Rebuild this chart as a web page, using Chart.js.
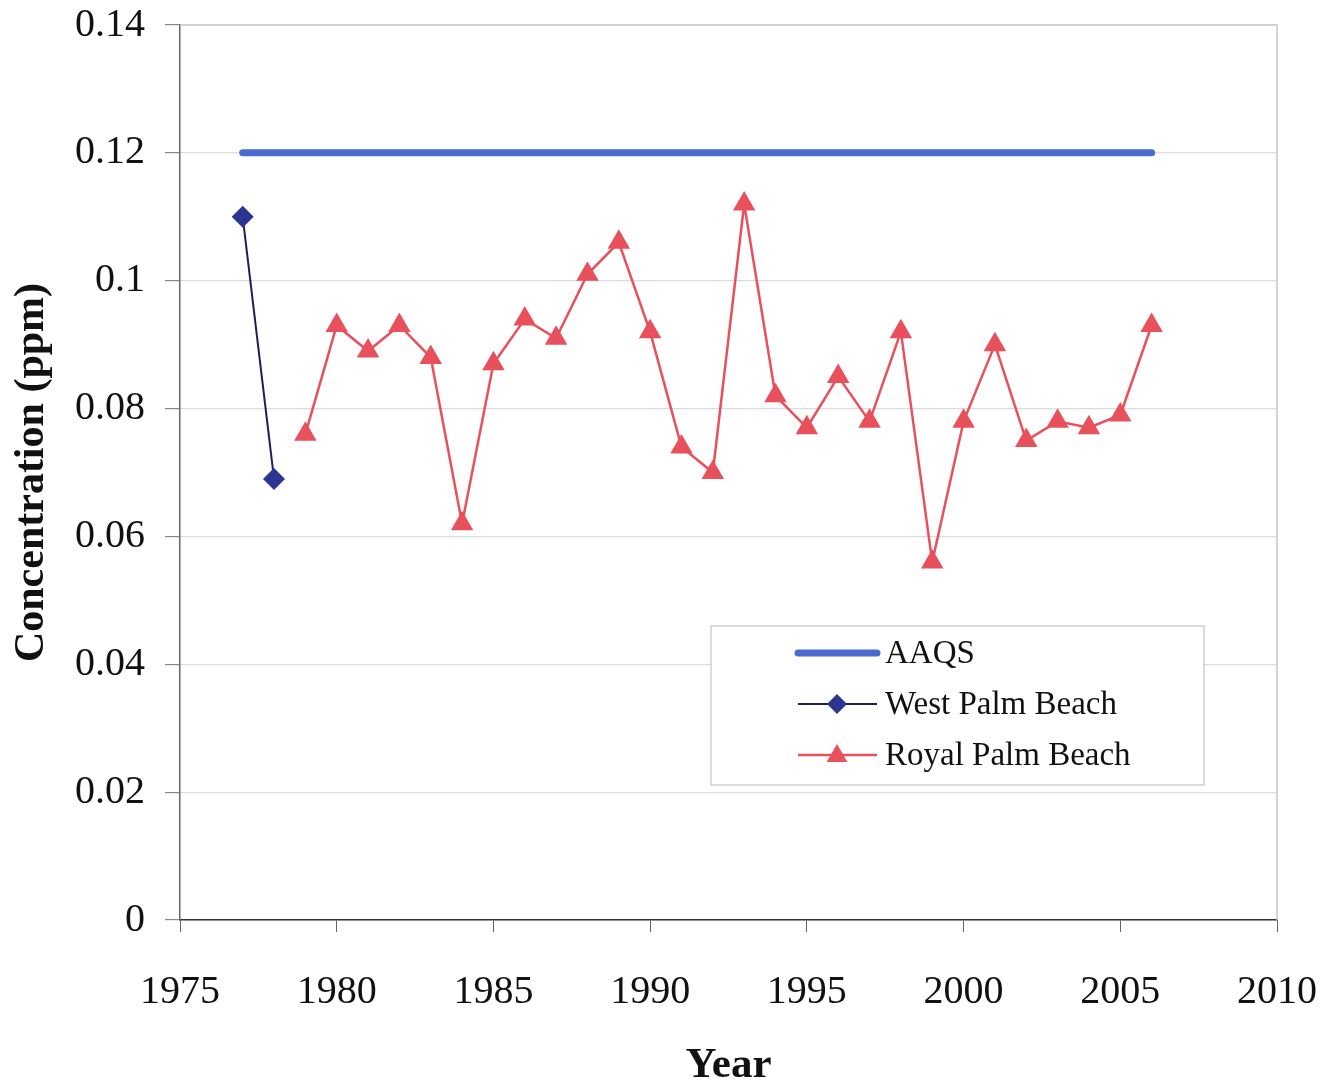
<!DOCTYPE html>
<html>
<head>
<meta charset="utf-8">
<script src="https://cdn.jsdelivr.net/npm/chart.js@4/dist/chart.umd.min.js"></script>
<style>
  html, body { margin: 0; padding: 0; background: #fff; }
  #wrap { width: 1325px; height: 1081px; }
</style>
</head>
<body>
<div id="wrap"><canvas id="c" width="1325" height="1081"></canvas></div>
<script>
// Ozone concentration by year (ppm)
const aaqsYears = [1977, 2006];
const aaqsValues = [0.12, 0.12];

const westYears = [1977, 1978];
const westValues = [0.110, 0.069];

const royalYears = [1979, 1980, 1981, 1982, 1983, 1984, 1985, 1986, 1987, 1988,
                    1989, 1990, 1991, 1992, 1993, 1994, 1995, 1996, 1997, 1998,
                    1999, 2000, 2001, 2002, 2003, 2004, 2005, 2006];
const royalValues = [0.076, 0.093, 0.089, 0.093, 0.088, 0.062, 0.087, 0.094, 0.091, 0.101,
                     0.106, 0.092, 0.074, 0.070, 0.112, 0.082, 0.077, 0.085, 0.078, 0.092,
                     0.056, 0.078, 0.090, 0.075, 0.078, 0.077, 0.079, 0.093];

const xTickValues = [1975, 1980, 1985, 1990, 1995, 2000, 2005, 2010];
const yTickValues = [0, 0.02, 0.04, 0.06, 0.08, 0.1, 0.12, 0.14];
const yTickLabels = ['0', '0.02', '0.04', '0.06', '0.08', '0.1', '0.12', '0.14'];

const seriesNames = ['AAQS', 'West Palm Beach', 'Royal Palm Beach'];

const toPoints = (xs, ys) => xs.map((x, i) => ({ x: x, y: ys[i] }));

const SERIF = '"Liberation Serif", "Times New Roman", serif';
const AAQS_COLOR = '#4b6bd0';
const WEST_LINE = '#1d1f5c';
const WEST_MARK = '#2c3592';
const ROYAL_COLOR = '#e8505c';

// light frame on the top and right of the plotting area
const frame = {
  id: 'frame',
  beforeDatasetsDraw(chart) {
    const { ctx, chartArea: a } = chart;
    ctx.save();
    ctx.strokeStyle = '#c8c8c8';
    ctx.lineWidth = 1.5;
    ctx.beginPath();
    ctx.moveTo(a.left, a.top);
    ctx.lineTo(a.right, a.top);
    ctx.lineTo(a.right, a.bottom);
    ctx.stroke();
    ctx.restore();
  }
};

function drawDiamond(ctx, x, y, r, color) {
  ctx.fillStyle = color;
  ctx.beginPath();
  ctx.moveTo(x, y - r);
  ctx.lineTo(x + r, y);
  ctx.lineTo(x, y + r);
  ctx.lineTo(x - r, y);
  ctx.closePath();
  ctx.fill();
}
function drawTriangle(ctx, x, y, r, color) {
  ctx.fillStyle = color;
  ctx.beginPath();
  const s = Math.sin(Math.PI / 3) * r, c = Math.cos(Math.PI / 3) * r;
  ctx.moveTo(x, y - r);
  ctx.lineTo(x + s, y + c);
  ctx.lineTo(x - s, y + c);
  ctx.closePath();
  ctx.fill();
}

// boxed legend inside the plot area
const boxLegend = {
  id: 'boxLegend',
  afterDraw(chart) {
    const { ctx } = chart;
    const bx = 711, by = 626, bw = 493, bh = 159;
    ctx.save();
    ctx.fillStyle = '#ffffff';
    ctx.fillRect(bx, by, bw, bh);
    ctx.strokeStyle = '#c4c4c4';
    ctx.lineWidth = 1.2;
    ctx.strokeRect(bx, by, bw, bh);

    const rows = [653, 704, 755];
    const x0 = 798, x1 = 877, xm = 837;
    ctx.font = '33px ' + SERIF;
    ctx.textBaseline = 'middle';
    ctx.textAlign = 'left';
    chart.data.datasets.forEach((ds, i) => {
      const y = rows[i];
      ctx.strokeStyle = ds.borderColor;
      ctx.lineWidth = ds.borderWidth;
      ctx.lineCap = i === 0 ? 'round' : 'butt';
      ctx.beginPath();
      ctx.moveTo(x0, y);
      ctx.lineTo(x1, y);
      ctx.stroke();
      if (i === 1) drawDiamond(ctx, xm, y, 10, WEST_MARK);
      if (i === 2) drawTriangle(ctx, xm, y + 1, 12, ROYAL_COLOR);
      ctx.fillStyle = '#111';
      ctx.fillText(ds.label, 885, y + 1);
    });
    ctx.restore();
  }
};

new Chart(document.getElementById('c'), {
  type: 'line',
  data: {
    datasets: [
      {
        label: seriesNames[0],
        data: toPoints(aaqsYears, aaqsValues),
        borderColor: AAQS_COLOR,
        borderWidth: 7,
        borderCapStyle: 'round',
        pointRadius: 0,
        tension: 0
      },
      {
        label: seriesNames[1],
        data: toPoints(westYears, westValues),
        borderColor: WEST_LINE,
        borderWidth: 2,
        pointStyle: 'rectRot',
        pointRadius: 11,
        pointBackgroundColor: WEST_MARK,
        pointBorderColor: WEST_MARK,
        pointBorderWidth: 0,
        tension: 0
      },
      {
        label: seriesNames[2],
        data: toPoints(royalYears, royalValues),
        borderColor: ROYAL_COLOR,
        borderWidth: 2.5,
        pointStyle: 'triangle',
        pointRadius: 13,
        pointBackgroundColor: ROYAL_COLOR,
        pointBorderColor: ROYAL_COLOR,
        pointBorderWidth: 0,
        tension: 0
      }
    ]
  },
  options: {
    responsive: false,
    animation: false,
    layout: { padding: { top: 25, right: 48, left: 0, bottom: 0 } },
    plugins: {
      legend: { display: false },
      tooltip: { enabled: false }
    },
    scales: {
      x: {
        type: 'linear',
        min: 1975,
        max: 2010,
        afterBuildTicks(scale) {
          scale.ticks = xTickValues.map(v => ({ value: v }));
        },
        afterFit(scale) {
          scale.height = 161;
          scale.paddingLeft = 0;
          scale.paddingRight = 0;
        },
        ticks: {
          color: '#111',
          font: { family: SERIF, size: 40 },
          padding: 36,
          maxRotation: 0,
          callback: v => String(v)
        },
        grid: {
          drawOnChartArea: false,
          drawTicks: true,
          tickLength: 12,
          tickColor: '#666'
        },
        border: { display: true, color: '#333', width: 1.5 },
        title: {
          display: true,
          text: 'Year',
          color: '#111',
          font: { family: SERIF, size: 43, weight: 'bold', lineHeight: 0.7 },
          padding: { top: 0, bottom: 0 }
        }
      },
      y: {
        type: 'linear',
        min: 0,
        max: 0.14,
        afterBuildTicks(scale) {
          scale.ticks = yTickValues.map(v => ({ value: v }));
        },
        afterFit(scale) {
          scale.width = 180;
          scale.paddingTop = 0;
          scale.paddingBottom = 0;
        },
        ticks: {
          color: '#111',
          font: { family: SERIF, size: 40 },
          padding: 20,
          callback: (v) => yTickLabels[yTickValues.findIndex(t => Math.abs(t - v) < 1e-9)]
        },
        grid: {
          color: '#dcdcdc',
          lineWidth: 1.2,
          drawTicks: true,
          tickLength: 15,
          tickColor: '#888'
        },
        border: { display: true, color: '#666', width: 1.5 },
        title: {
          display: true,
          text: 'Concentration (ppm)',
          color: '#111',
          font: { family: SERIF, size: 42, weight: 'bold', lineHeight: 1 },
          padding: { top: 11, bottom: 0 }
        }
      }
    }
  },
  plugins: [frame, boxLegend]
});
</script>
</body>
</html>
